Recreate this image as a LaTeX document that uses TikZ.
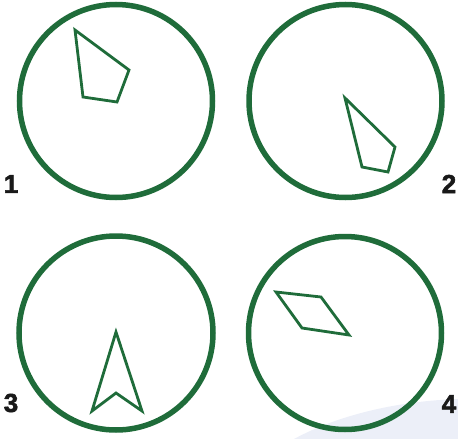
\documentclass[tikz,border=0pt]{standalone}
\usepackage{fontspec}
\setmainfont{Liberation Sans}
\newfontfamily\numfont[FakeBold=2.2]{Liberation Sans}
\usepackage{tikz}
\usetikzlibrary{positioning}
\definecolor{dialgreen}{RGB}{31,108,58}
\definecolor{bgblue}{RGB}{236,239,248}
\definecolor{numdark}{RGB}{25,25,25}
\tikzset{
  dial/.style={draw=dialgreen, line width=5.5pt},
  shard/.style={draw=dialgreen, line width=2.8pt, line join=miter},
  numlabel/.style={font=\numfont\bfseries\fontsize{26}{26}\selectfont,
    color=numdark, inner sep=0pt}
}

\begin{document}
\begin{tikzpicture}[x=1pt, y=-1pt]
  \useasboundingbox (0,0) rectangle (458,439);
  % Background swoosh
  \fill[bgblue] (294,439) .. controls (340,414) and (400,401) .. (458,399)
    -- (458,439) -- cycle;
  % Dial 1
  \draw[dial] (116,101) circle (96.5);
  \draw[shard] (75,30) -- (129,70) -- (117,102) -- (83,97) -- cycle;
  \node[numlabel] (n1) at (11,184) {1};
  % Dial 2
  \draw[dial] (345.5,101) circle (96.5);
  \draw[shard] (345,98) -- (395,147) -- (388,172) -- (362,167) -- cycle;
  \node[numlabel] (n2) at (449,184) {2};
  % Dial 3
  \draw[dial] (116,333) circle (97);
  \draw[shard] (116,332) -- (142,411) -- (116,393) -- (92,411) -- cycle;
  \node[numlabel] (n3) at (11,403) {3};
  % Dial 4
  \draw[dial] (345,333) circle (96.5);
  \draw[shard] (276,292) -- (321,297) -- (349,335) -- (302,328) -- cycle;
  \node[numlabel] (n4) at (449,404) {4};
\end{tikzpicture}
\end{document}
